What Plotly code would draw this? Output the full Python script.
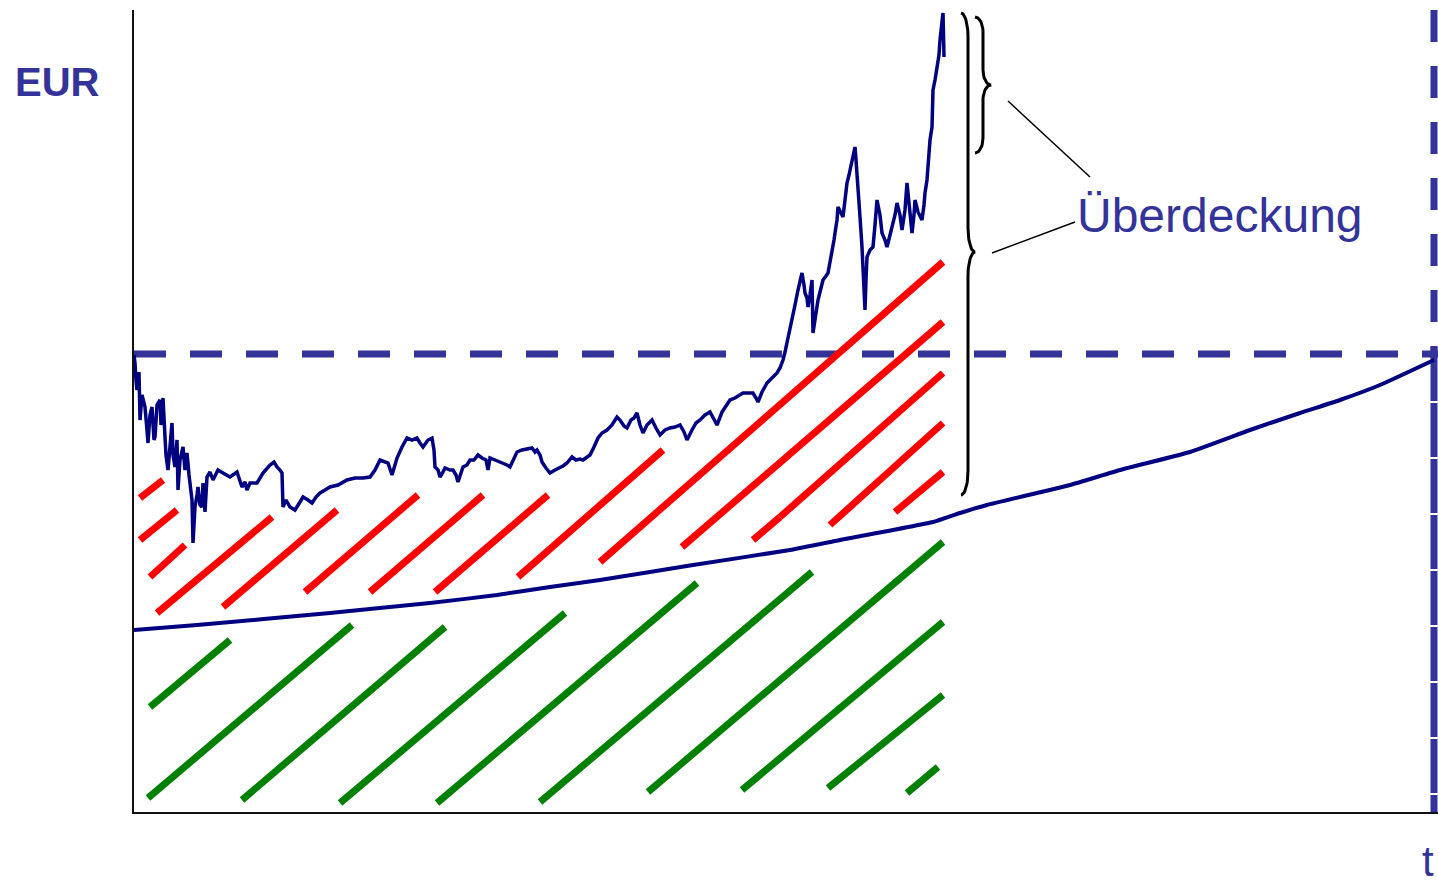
import numpy as np
import plotly.graph_objects as go

# ---------------- data (chart units: t = time, eur = value) ----------------
price_t = [0, 1, 2, 3, 5, 6, 8, 11, 13, 14, 16, 18, 20, 21, 23, 26, 27, 29, 31, 32, 34, 36, 38, 39, 41, 43, 44, 46,
           49, 51, 53, 55, 56, 58, 59, 60, 61, 63, 64, 66, 68, 69, 71, 73, 76, 79, 84, 89, 96, 103, 108, 111, 113,
           116, 123, 129, 136, 140, 143, 146, 148, 149, 152, 156, 161, 166, 169, 174, 178, 182, 186, 191, 196, 204,
           213, 221, 229, 236, 241, 246, 251, 254, 258, 261, 263, 268, 273, 278, 283, 286, 289, 294, 298, 300, 301,
           304, 306, 309, 311, 316, 319, 322, 324, 326, 329, 333, 336, 340, 344, 348, 352, 354, 356, 361, 366, 369,
           373, 376, 380, 383, 388, 393, 398, 401, 403, 406, 408, 412, 416, 421, 426, 429, 433, 438, 442, 446, 449,
           453, 456, 460, 464, 468, 473, 478, 483, 486, 490, 493, 497, 500, 503, 506, 509, 513, 518, 522, 526, 531,
           536, 541, 546, 550, 553, 558, 562, 566, 571, 576, 580, 583, 588, 593, 596, 601, 606, 609, 614, 619, 622,
           624, 628, 633, 638, 643, 646, 649, 651, 653, 656, 659, 661, 664, 666, 668, 670, 671, 673, 674, 676, 678,
           679, 681, 684, 686, 689, 692, 694, 696, 698, 700, 701, 703, 704, 707, 709, 711, 713, 715, 718, 720, 721,
           722, 723, 725, 726, 728, 729, 731, 732, 733, 736, 739, 741, 743, 746, 748, 751, 753, 756, 758, 761, 763,
           766, 768, 771, 773, 776, 778, 780, 781, 784, 788, 790, 791, 793, 794, 796, 798, 799, 801, 803, 805, 806,
           807, 808, 809, 810]
price_eur = [457, 449, 432, 422, 440, 392, 417, 405, 382, 369, 397, 405, 372, 375, 407, 412, 387, 414, 375, 357, 342,
             372, 389, 357, 345, 372, 322, 352, 365, 342, 359, 337, 329, 312, 269, 292, 305, 317, 325, 307, 305, 329,
             300, 335, 340, 332, 342, 339, 335, 340, 325, 330, 322, 329, 329, 339, 347, 350, 345, 342, 339, 305, 312,
             305, 302, 310, 315, 312, 309, 315, 319, 322, 325, 327, 332, 334, 334, 335, 342, 352, 350, 349, 337, 347,
             354, 365, 374, 372, 374, 369, 365, 372, 374, 362, 345, 342, 335, 340, 344, 342, 342, 337, 330, 336, 345,
             347, 352, 352, 357, 354, 352, 342, 354, 352, 350, 349, 347, 345, 354, 360, 362, 363, 364, 360, 362, 357,
             350, 344, 339, 342, 344, 346, 349, 355, 352, 353, 352, 355, 357, 365, 374, 379, 382, 387, 395, 392, 386,
             384, 392, 394, 399, 387, 379, 387, 392, 384, 377, 382, 384, 385, 387, 380, 372, 382, 389, 392, 397, 400,
             392, 387, 400, 407, 412, 414, 417, 419, 419, 419, 414, 410, 420, 429, 434, 439, 444, 452, 460, 469, 482,
             495, 507, 522, 532, 539, 527, 519, 514, 505, 517, 532, 479, 494, 512, 520, 532, 536, 539, 550, 559, 572,
             579, 592, 605, 600, 595, 612, 629, 637, 652, 662, 665, 652, 639, 617, 595, 565, 542, 502, 532, 555, 562,
             565, 587, 612, 597, 579, 572, 565, 577, 585, 597, 609, 597, 582, 602, 629, 602, 579, 597, 612, 600, 592,
             607, 619, 632, 649, 672, 685, 722, 732, 745, 757, 772, 782, 792, 799, 755]

liab_t = [0, 63, 196, 296, 363, 416, 466, 559, 656, 706, 799, 826, 853, 936, 986, 1056, 1116, 1166, 1206, 1246, 1300]
liab_eur = [182, 187, 199, 209, 217, 225, 232, 247, 262, 272, 290, 299, 307, 327, 342, 360, 382, 399, 412, 427, 452]

target_eur = 458          # horizontal dashed level
horizon_t = 1300          # vertical dashed horizon

red_t0 = [6, 6, 16, 23, 89, 171, 236, 301, 384, 466, 548, 619, 646, 696, 761]
red_e0 = [314, 272, 235, 199, 205, 220, 220, 220, 235, 250, 265, 272, 295, 287, 300]
red_t1 = [29, 43, 51, 138, 203, 284, 349, 414, 529, 809, 809, 646, 809, 809, 809]
red_e1 = [332, 302, 267, 295, 302, 317, 317, 317, 362, 550, 490, 295, 439, 389, 340]

green_t0 = [16, 14, 108, 206, 303, 406, 514, 608, 694, 773]
green_e0 = [105, 14, 12, 9, 9, 10, 20, 22, 24, 19]
green_t1 = [96, 218, 311, 431, 563, 678, 809, 809, 809, 804]
green_e1 = [172, 187, 185, 199, 229, 240, 270, 190, 117, 45]

# braces: (t, eur_bottom, eur_top, eur_tip)
big_brace = (834, 317, 799, 560)
small_brace = (849, 659, 795, 727)
leader_t0 = [874, 858]
leader_e0 = [711, 559]
leader_t1 = [956, 941]
leader_e1 = [635, 590]

label_text = "Überdeckung"
y_label = "EUR"
x_label = "t"

NAVY = "#000080"
INDIGO = "#333399"


def segs(t0, e0, t1, e1):
    xs, ys = [], []
    for a, b, c, d in zip(t0, e0, t1, e1):
        xs += [a, c, None]
        ys += [b, d, None]
    return xs, ys


def brace(x, yb, yt, ytip, w, r):
    xs, ys = [], []
    th = np.linspace(np.pi / 2, 0, 15)
    xs += list(x - w + w * np.cos(th)); ys += list(yt - r + r * np.sin(th))
    th = np.linspace(np.pi, 1.5 * np.pi, 15)
    xs += list(x + w + w * np.cos(th)); ys += list(ytip + r + r * np.sin(th))
    th = np.linspace(np.pi / 2, np.pi, 15)
    xs += list(x + w + w * np.cos(th)); ys += list(ytip - r + r * np.sin(th))
    th = np.linspace(0, -np.pi / 2, 15)
    xs += list(x - w + w * np.cos(th)); ys += list(yb + r + r * np.sin(th))
    return xs, ys


fig = go.Figure()

# dashed reference lines
fig.add_trace(go.Scatter(x=[0, 1304], y=[target_eur, target_eur], mode="lines",
                         line=dict(color=INDIGO, width=7, dash="32px,24px"), hoverinfo="skip"))
fig.add_trace(go.Scatter(x=[horizon_t, horizon_t], y=[802, 462], mode="lines",
                         line=dict(color=INDIGO, width=7, dash="32px,24px"), hoverinfo="skip"))
fig.add_trace(go.Scatter(x=[horizon_t, horizon_t], y=[465, 0], mode="lines",
                         line=dict(color=INDIGO, width=7, dash="54px,2px"), hoverinfo="skip"))

# hatching
rx, ry = segs(red_t0, red_e0, red_t1, red_e1)
fig.add_trace(go.Scatter(x=rx, y=ry, mode="lines", line=dict(color="#ff0000", width=7), hoverinfo="skip"))
gx, gy = segs(green_t0, green_e0, green_t1, green_e1)
fig.add_trace(go.Scatter(x=gx, y=gy, mode="lines", line=dict(color="#008000", width=7), hoverinfo="skip"))

# liabilities curve
fig.add_trace(go.Scatter(x=liab_t, y=liab_eur, mode="lines",
                         line=dict(color=NAVY, width=4, shape="spline", smoothing=0.4), hoverinfo="skip"))
# asset path
fig.add_trace(go.Scatter(x=price_t, y=price_eur, mode="lines",
                         line=dict(color=NAVY, width=3.5), hoverinfo="skip"))

# braces and leaders
bx, by = brace(big_brace[0], big_brace[1], big_brace[2], big_brace[3], 7, 24)
fig.add_trace(go.Scatter(x=bx, y=by, mode="lines", line=dict(color="black", width=3), hoverinfo="skip"))
sx, sy = brace(small_brace[0], small_brace[1], small_brace[2], small_brace[3], 8, 15)
fig.add_trace(go.Scatter(x=sx, y=sy, mode="lines", line=dict(color="black", width=3), hoverinfo="skip"))
lx, ly = segs(leader_t0, leader_e0, leader_t1, leader_e1)
fig.add_trace(go.Scatter(x=lx, y=ly, mode="lines", line=dict(color="black", width=1.5), hoverinfo="skip"))

fig.add_annotation(x=1086, y=597, text=label_text, showarrow=False, xanchor="center", yanchor="middle",
                   font=dict(family="Liberation Sans, Arial", size=48, color=INDIGO))
fig.add_annotation(x=-0.059, y=0.91, xref="paper", yref="paper", text="<b>" + y_label + "</b>",
                   showarrow=False, xanchor="center", yanchor="middle",
                   font=dict(family="Liberation Sans, Arial", size=40, color=INDIGO))
fig.add_annotation(x=0.9925, y=-0.062, xref="paper", yref="paper", text=x_label, showarrow=False,
                   xanchor="center", yanchor="middle",
                   font=dict(family="Liberation Sans, Arial", size=42, color=INDIGO))

fig.update_layout(
    width=1438, height=885, showlegend=False,
    margin=dict(l=134, r=0, t=10, b=73),
    paper_bgcolor="white", plot_bgcolor="white",
    xaxis=dict(range=[0, 1304], showgrid=False, zeroline=False, showticklabels=False, ticks="",
               showline=True, linecolor="#111111", linewidth=2, fixedrange=True),
    yaxis=dict(range=[0, 802], showgrid=False, zeroline=False, showticklabels=False, ticks="",
               showline=True, linecolor="#111111", linewidth=2, fixedrange=True),
)

fig.write_html("out.html", config={"displayModeBar": False},
               post_script="document.body.style.margin='0';")
